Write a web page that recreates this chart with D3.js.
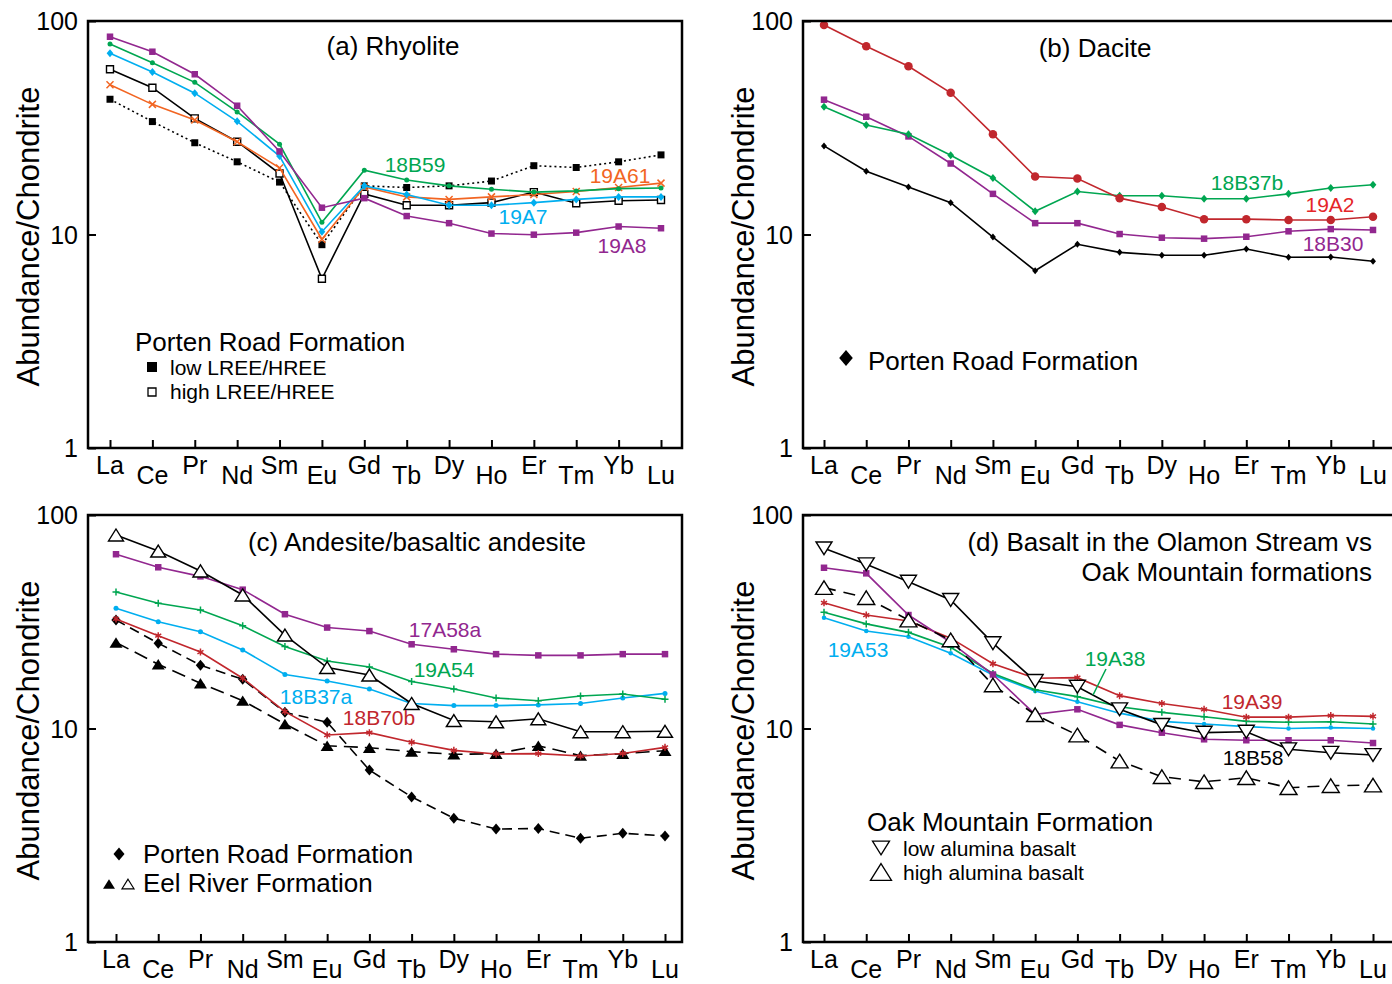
<!DOCTYPE html>
<html><head><meta charset="utf-8">
<script src="https://cdn.jsdelivr.net/npm/d3@7"></script>
<style>
body{margin:0;background:#fff}
svg{display:block}
text{font-family:"Liberation Sans",Arial,Helvetica,sans-serif;fill:#000}
</style>
</head><body>
<svg id="chart" width="1392" height="984"></svg>
<script>
// ---------------- DATA ----------------
const elements = ["La","Ce","Pr","Nd","Sm","Eu","Gd","Tb","Dy","Ho","Er","Tm","Yb","Lu"];
const yTickValues = [1, 10, 100];
const yTickLabels = ["1", "10", "100"];
const yAxisTitle = "Abundance/Chondrite";

// (a) Rhyolite
const a_highLREE = [59.4,48.7,35.0,27.2,19.3,6.2,15.5,13.7,13.7,14.1,15.8,14.0,14.4,14.5];
const a_lowLREE  = [43.0,33.8,26.9,21.9,17.6,8.96,16.9,16.6,16.9,17.8,21.0,20.6,21.9,23.6];
const a_19A61    = [50.3,40.7,34.4,27.2,20.5,9.5,16.7,15.0,14.6,15.0,15.4,15.9,16.6,17.4];
const a_19A7     = [70.6,57.7,45.9,33.9,23.3,10.3,16.9,15.4,13.7,13.7,14.1,14.6,15.0,15.0];
const a_18B59    = [78.0,63.8,51.6,37.5,26.5,11.4,20.0,18.0,16.9,16.3,15.8,16.0,16.4,16.5];
const a_19A8     = [84.4,71.8,56.3,40.1,24.5,13.35,14.8,12.2,11.3,10.1,9.98,10.2,10.9,10.7];

// (b) Dacite
const b_porten = [26.0,19.8,16.7,14.1,9.73,6.77,9.0,8.25,7.99,7.99,8.55,7.82,7.85,7.49];
const b_18B30  = [42.8,35.6,28.8,21.5,15.5,11.3,11.3,10.05,9.66,9.56,9.76,10.35,10.6,10.5];
const b_18B37b = [39.7,32.6,29.5,23.5,18.4,12.85,15.9,15.2,15.2,14.7,14.7,15.5,16.5,17.1];
const b_19A2   = [95.8,76.1,61.4,46.1,29.5,18.7,18.3,14.8,13.45,11.8,11.8,11.7,11.7,12.1];

// (c) Andesite/basaltic andesite
const c_eelFilled = [25.3,20.0,16.3,13.5,10.5,8.3,8.13,7.79,7.57,7.62,8.3,7.46,7.62,7.87];
const c_porten    = [32.2,25.1,19.8,17.0,11.9,10.7,6.39,4.78,3.80,3.38,3.40,3.06,3.23,3.14];
const c_18B70b    = [32.6,27.2,22.8,17.2,12.0,9.32,9.56,8.62,7.9,7.6,7.63,7.43,7.64,8.16];
const c_18B37a    = [36.6,31.6,28.4,23.3,17.9,16.7,15.3,13.1,12.8,12.8,12.9,13.1,13.9,14.6];
const c_19A54     = [43.6,38.6,35.9,30.3,24.2,20.7,19.4,16.6,15.3,13.9,13.5,14.2,14.5,13.7];
const c_17A58a    = [65.5,56.9,51.6,44.7,34.3,29.7,28.6,24.8,23.5,22.3,22.0,22.0,22.3,22.3];
const c_eelOpen   = [80.6,67.8,54.7,42.2,27.4,19.3,17.8,13.1,10.9,10.75,11.1,9.66,9.66,9.7];

// (d) Basalt in the Olamon Stream vs Oak Mountain formations
const d_19A53  = [33.0,28.6,26.9,22.5,17.8,15.0,13.35,11.8,10.8,10.5,10.2,10.0,10.1,10.0];
const d_19A38  = [35.0,30.9,28.2,24.0,18.1,15.2,14.1,12.65,11.9,11.35,10.8,10.7,10.75,10.5];
const d_19A39  = [38.8,34.0,31.9,26.5,20.1,17.2,17.3,14.25,13.1,12.3,11.3,11.3,11.5,11.4];
const d_purple = [56.6,53.3,34.0,25.3,17.9,11.65,12.3,10.4,9.56,8.9,8.81,8.81,8.81,8.55];
const d_highAl = [45.7,41.0,32.2,26.0,16.0,11.6,9.32,7.04,5.95,5.63,5.88,5.28,5.40,5.43];
const d_lowAl  = [69.8,58.8,48.7,40.0,25.1,16.7,15.7,12.3,10.4,9.56,9.66,7.99,7.70,7.51];

// ---------------- STYLE ----------------
const COL = {purple:"#92278F", green:"#00A651", cyan:"#00AEEF", orange:"#F26522",
             red:"#C1272D", redLabel:"#E52629", black:"#000000"};
const FONT_TICK = 25, FONT_TITLE = 26, FONT_AXIS = 31, FONT_LAB = 21, FONT_LEG = 21, FONT_LEGT = 26;

function markerPath(type, s) {
  const h = s / 2;
  switch (type) {
    case "square": return `M${-h},${-h}h${s}v${s}h${-s}Z`;
    case "circle": return `M${h},0A${h},${h} 0 1,1 ${-h},0A${h},${h} 0 1,1 ${h},0Z`;
    case "diamond": { const w = h * 0.85; return `M0,${-h}L${w},0L0,${h}L${-w},0Z`; }
    case "triUp": { const t = s * 0.8; return `M0,${-t/2}L${h},${t/2}L${-h},${t/2}Z`; }
    case "triDown": { const t = s * 0.8; return `M0,${t/2}L${h},${-t/2}L${-h},${-t/2}Z`; }
    case "plus": return `M${-h},0H${h}M0,${-h}V${h}`;
    case "times": return `M${-h},${-h}L${h},${h}M${-h},${h}L${h},${-h}`;
    case "asterisk": {
      const dx = h * Math.sin(Math.PI/3), dy = h * Math.cos(Math.PI/3);
      return `M0,${-h}V${h}M${-dx},${-dy}L${dx},${dy}M${-dx},${dy}L${dx},${-dy}`;
    }
  }
}

// ---------------- PANELS ----------------
const panels = [
  { x0:88, x1:682, y0:21, y1:448, xr:[110,661], titleX:393, titleY:55, title:["(a) Rhyolite"], titleAnchor:"middle",
    series:[
      {v:a_highLREE, c:COL.black, m:"square", s:7, open:true},
      {v:a_lowLREE, c:COL.black, m:"square", s:7, dash:"2,3"},
      {v:a_19A61, c:COL.orange, m:"times", s:7},
      {v:a_19A7, c:COL.cyan, m:"diamond", s:8},
      {v:a_18B59, c:COL.green, m:"circle", s:5},
      {v:a_19A8, c:COL.purple, m:"square", s:6.5}
    ],
    labels:[
      {t:"18B59", x:415, y:172, c:COL.green},
      {t:"19A61", x:620, y:183, c:COL.orange},
      {t:"19A7", x:523, y:224, c:COL.cyan},
      {t:"19A8", x:622, y:253, c:COL.purple}
    ],
    legendText:[
      {t:"Porten Road Formation", x:135, y:351, size:FONT_LEGT},
      {t:"low LREE/HREE", x:170, y:375, size:FONT_LEG},
      {t:"high LREE/HREE", x:170, y:399, size:FONT_LEG}
    ],
    legendMarks:[
      {m:"square", s:10, x:152, y:367, fill:"#000", stroke:"none"},
      {m:"square", s:8, x:152, y:392, fill:"#fff", stroke:"#000", sw:1.3}
    ]
  },
  { x0:803, x1:1397, y0:21, y1:448, xr:[824,1373], titleX:1095, titleY:57, title:["(b) Dacite"], titleAnchor:"middle",
    series:[
      {v:b_porten, c:COL.black, m:"diamond", s:7},
      {v:b_18B30, c:COL.purple, m:"square", s:6.5},
      {v:b_18B37b, c:COL.green, m:"diamond", s:8},
      {v:b_19A2, c:COL.red, m:"circle", s:8.5}
    ],
    labels:[
      {t:"18B37b", x:1247, y:190, c:COL.green},
      {t:"19A2", x:1330, y:212, c:COL.redLabel},
      {t:"18B30", x:1333, y:251, c:COL.purple}
    ],
    legendText:[
      {t:"Porten Road Formation", x:868, y:370, size:FONT_LEGT}
    ],
    legendMarks:[
      {m:"diamond", s:16, x:846, y:358, fill:"#000", stroke:"none"}
    ]
  },
  { x0:88, x1:682, y0:515, y1:942, xr:[116,665], titleX:417, titleY:551, title:["(c) Andesite/basaltic andesite"], titleAnchor:"middle",
    series:[
      {v:c_eelFilled, c:COL.black, m:"triUp", s:13, dash:"14,7"},
      {v:c_porten, c:COL.black, m:"diamond", s:11, dash:"10,6"},
      {v:c_18B70b, c:COL.red, m:"asterisk", s:7},
      {v:c_18B37a, c:COL.cyan, m:"circle", s:5},
      {v:c_19A54, c:COL.green, m:"plus", s:7},
      {v:c_17A58a, c:COL.purple, m:"square", s:6.5},
      {v:c_eelOpen, c:COL.black, m:"triUp", s:15, open:true}
    ],
    labels:[
      {t:"17A58a", x:445, y:637, c:COL.purple},
      {t:"19A54", x:444, y:677, c:COL.green},
      {t:"18B37a", x:316, y:704, c:COL.cyan},
      {t:"18B70b", x:379, y:725, c:COL.red}
    ],
    legendText:[
      {t:"Porten Road Formation", x:143, y:863, size:FONT_LEGT},
      {t:"Eel River Formation", x:143, y:892, size:FONT_LEGT}
    ],
    legendMarks:[
      {m:"diamond", s:13, x:119, y:854, fill:"#000", stroke:"none"},
      {m:"triUp", s:12, x:109, y:884, fill:"#000", stroke:"none"},
      {m:"triUp", s:12, x:128, y:884, fill:"#fff", stroke:"#000", sw:1.2}
    ]
  },
  { x0:803, x1:1397, y0:515, y1:942, xr:[824,1373], titleX:1372, titleY:551,
    title:["(d) Basalt in the Olamon Stream vs", "Oak Mountain formations"], titleAnchor:"end",
    series:[
      {v:d_19A53, c:COL.cyan, m:"circle", s:4.5},
      {v:d_19A38, c:COL.green, m:"plus", s:7},
      {v:d_19A39, c:COL.red, m:"asterisk", s:7},
      {v:d_purple, c:COL.purple, m:"square", s:6.5},
      {v:d_highAl, c:COL.black, m:"triUp", s:17, open:true, dash:"12,8"},
      {v:d_lowAl, c:COL.black, m:"triDown", s:16, open:true}
    ],
    labels:[
      {t:"19A53", x:858, y:657, c:COL.cyan},
      {t:"19A38", x:1115, y:666, c:COL.green},
      {t:"19A39", x:1252, y:709, c:COL.red},
      {t:"18B58", x:1253, y:765, c:COL.black}
    ],
    leader:{x1:1106, y1:669, x2:1093, y2:695, c:COL.green},
    legendText:[
      {t:"Oak Mountain Formation", x:867, y:831, size:FONT_LEGT},
      {t:"low alumina basalt", x:903, y:856, size:FONT_LEG},
      {t:"high alumina basalt", x:903, y:880, size:FONT_LEG}
    ],
    legendMarks:[
      {m:"triDown", s:17, x:881, y:848, fill:"#fff", stroke:"#000", sw:1.3},
      {m:"triUp", s:21, x:881, y:872, fill:"#fff", stroke:"#000", sw:1.3}
    ]
  }
];

// ---------------- DRAW ----------------
const svg = d3.select("#chart");

panels.forEach(p => {
  const g = svg.append("g");
  const x = d3.scalePoint().domain(elements).range(p.xr);
  const y = d3.scaleLog().domain([1, 100]).range([p.y1, p.y0]);

  // x-axis ticks (inward) and alternating labels
  const xAxis = d3.axisBottom(x).tickSize(-8).tickFormat("");
  const xa = g.append("g").attr("transform", `translate(0,${p.y1})`).call(xAxis);
  xa.select(".domain").remove();
  xa.selectAll(".tick line").attr("stroke", "#000").attr("stroke-width", 2);
  g.selectAll(null).data(elements).enter().append("text")
    .attr("x", d => x(d))
    .attr("y", (d, i) => p.y1 + (i % 2 === 0 ? 26 : 36))
    .attr("text-anchor", "middle")
    .attr("font-size", FONT_TICK)
    .text(d => d);

  // y-axis ticks (inward) and labels
  const yAxis = d3.axisLeft(y).tickValues(yTickValues).tickSize(-8).tickFormat("");
  const ya = g.append("g").attr("transform", `translate(${p.x0},0)`).call(yAxis);
  ya.select(".domain").remove();
  ya.selectAll(".tick line").attr("stroke", "#000").attr("stroke-width", 2);
  g.selectAll(null).data(yTickValues).enter().append("text")
    .attr("x", p.x0 - 10)
    .attr("y", d => y(d) + 9)
    .attr("text-anchor", "end")
    .attr("font-size", FONT_TICK)
    .text((d, i) => yTickLabels[i]);

  // y-axis title
  g.append("text")
    .attr("transform", `translate(${p.x0 - 49},${(p.y0 + p.y1) / 2 + 2}) rotate(-90)`)
    .attr("text-anchor", "middle")
    .attr("font-size", FONT_AXIS)
    .text(yAxisTitle);

  // series
  const line = d3.line().x((d, i) => x(elements[i])).y(d => y(d));
  p.series.forEach(s => {
    g.append("path").attr("d", line(s.v))
      .attr("fill", "none").attr("stroke", s.c).attr("stroke-width", 1.6)
      .attr("stroke-dasharray", s.dash || null);
    const strokeOnly = ["plus", "times", "asterisk"].includes(s.m);
    g.selectAll(null).data(s.v).enter().append("path")
      .attr("transform", (d, i) => `translate(${x(elements[i])},${y(d)})`)
      .attr("d", markerPath(s.m, s.s))
      .attr("fill", strokeOnly ? "none" : (s.open ? "#fff" : s.c))
      .attr("stroke", strokeOnly || s.open ? s.c : "none")
      .attr("stroke-width", strokeOnly ? 1.5 : (s.open ? 1.4 : 0));
  });

  // frame
  g.append("rect").attr("x", p.x0).attr("y", p.y0)
    .attr("width", p.x1 - p.x0).attr("height", p.y1 - p.y0)
    .attr("fill", "none").attr("stroke", "#000").attr("stroke-width", 2.5);

  // title
  p.title.forEach((t, i) => {
    g.append("text").attr("x", p.titleX).attr("y", p.titleY + i * 30)
      .attr("text-anchor", p.titleAnchor).attr("font-size", FONT_TITLE).text(t);
  });

  // sample labels
  p.labels.forEach(l => {
    g.append("text").attr("x", l.x).attr("y", l.y).attr("text-anchor", "middle")
      .attr("font-size", FONT_LAB).style("fill", l.c).text(l.t);
  });
  if (p.leader) {
    g.append("line").attr("x1", p.leader.x1).attr("y1", p.leader.y1)
      .attr("x2", p.leader.x2).attr("y2", p.leader.y2)
      .attr("stroke", p.leader.c).attr("stroke-width", 1.5);
  }

  // legend
  p.legendMarks.forEach(m => {
    g.append("path").attr("transform", `translate(${m.x},${m.y})`)
      .attr("d", markerPath(m.m, m.s))
      .attr("fill", m.fill).attr("stroke", m.stroke).attr("stroke-width", m.sw || 0);
  });
  p.legendText.forEach(t => {
    g.append("text").attr("x", t.x).attr("y", t.y).attr("font-size", t.size).text(t.t);
  });
});
</script>
</body></html>
